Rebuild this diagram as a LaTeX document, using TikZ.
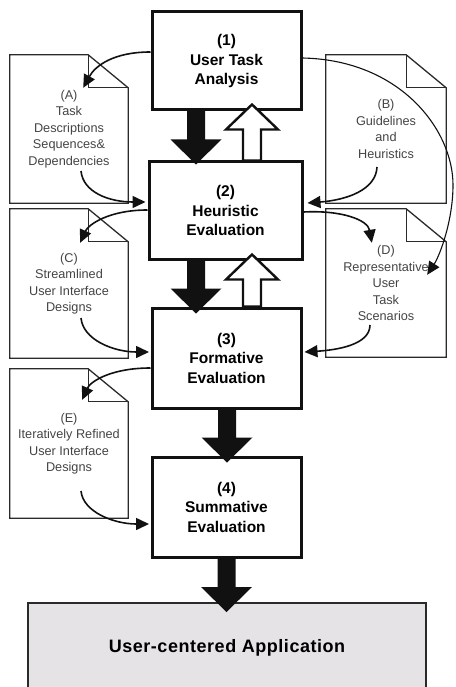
\documentclass[tikz,border=0pt]{standalone}
\usepackage{fontspec}
\setmainfont{Liberation Sans}
\usetikzlibrary{arrows.meta,calc}

\definecolor{ink}{HTML}{111111}
\definecolor{docline}{HTML}{2A2A2A}
\definecolor{doctext}{HTML}{444444}
\definecolor{appfill}{HTML}{E5E3E5}

% page folded at its top right corner, drawn round a document node
\newcommand\foldeddoc[1]{%
  \draw[docedge] (#1.north west) -- ($(#1.north east)+(-40,0)$) -- ($(#1.north east)+(0,33)$)
    -- (#1.south east) -- (#1.south west) -- cycle;
  \draw[docedge] ($(#1.north east)+(-40,0)$) -- ($(#1.north east)+(-40,33)$) -- ($(#1.north east)+(0,33)$);}

% solid block arrow from the bottom of one stage into the top of the next
\newcommand\solidpush[4]{%
  \fill[ink] let \p1=($(#1.south)+(#3,0)$), \p2=($(#2.north)+(#3,#4)$) in
    (\x1-9pt,\y1+1pt) -- (\x1-9pt,\y2+25pt) -- (\x1-25.5pt,\y2+25pt) -- (\x1,\y2)
    -- (\x1+25.5pt,\y2+25pt) -- (\x1+9pt,\y2+25pt) -- (\x1+9pt,\y1+1pt) -- cycle;}

% hollow block arrow from the top of one stage back up into the previous one
\newcommand\hollowpush[4]{%
  \filldraw[backflow] let \p1=($(#1.north)+(#3,0)$), \p2=($(#2.south)+(#3,#4)$) in
    (\x1-9pt,\y1) -- (\x1-9pt,\y2-25pt) -- (\x1-26pt,\y2-25pt) -- (\x1,\y2)
    -- (\x1+26pt,\y2-25pt) -- (\x1+9pt,\y2-25pt) -- (\x1+9pt,\y1) -- cycle;}

\begin{document}
\begin{tikzpicture}[x=1pt,y=-1pt,
  stage/.style={draw=ink, line width=3pt, fill=white, minimum width=149pt,
    minimum height=100pt, align=center, inner sep=0pt,
    font=\bfseries\fontsize{15.5}{19.5}\selectfont},
  docframe/.style={minimum width=118pt, minimum height=148pt, inner sep=0pt,
    align=center, text=doctext, font=\fontsize{12.7}{16.5}\selectfont},
  docedge/.style={draw=docline, line width=1.3pt, line join=miter},
  flow/.style={draw=ink, line width=1.6pt, -{Triangle[length=13pt,width=12pt]}},
  longflow/.style={draw=ink, line width=1.1pt, -{Triangle[length=13pt,width=12pt]}},
  backflow/.style={draw=ink, fill=white, line width=2.4pt, line join=miter},
  appbox/.style={draw=docline, line width=2pt, fill=appfill, minimum width=398pt,
    minimum height=90pt, inner sep=0pt,
    font=\bfseries\fontsize{18}{20}\selectfont\addfontfeature{LetterSpace=3}},
]
\useasboundingbox (0,0) rectangle (455,687);

% documents
\node[docframe] (A) at (69,129) {(A)\\Task\\Descriptions\\Sequences\&\\Dependencies};
\node[docframe, minimum width=120pt] (B) at (386,129) {(B)\\Guidelines\\and\\Heuristics};
\node[docframe, minimum height=149pt] (C) at (69,283.5) {(C)\\Streamlined\\User Interface\\Designs};
\node[docframe, minimum width=120pt] (D) at (386,283) {(D)\\Representative\\User\\Task\\Scenarios};
\node[docframe, minimum height=149pt] (E) at (69,443.5) {(E)\\Iteratively Refined\\User Interface\\Designs};
\foldeddoc{A}
\foldeddoc{B}
\foldeddoc{C}
\foldeddoc{D}
\foldeddoc{E}

% stages
\node[stage, minimum height=98pt] (B1) at (226.5,61) {(1)\\User Task\\Analysis};
\node[stage, minimum width=153pt, minimum height=97pt] (B2) at (225.5,210.5) {(2)\\Heuristic\\Evaluation};
\node[stage] (B3) at (226.5,358) {(3)\\Formative\\Evaluation};
\node[stage] (B4) at (226.5,507) {(4)\\Summative\\Evaluation};
\node[appbox] (App) at (227,648) {User-centered Application};

% forward and backward block arrows
\solidpush{B1}{B2}{-30.5}{4}
\solidpush{B2}{B3}{-29.5}{7}
\solidpush{B3}{B4}{0.5}{7}
\solidpush{B4}{App}{0}{10}
\hollowpush{B2}{B1}{26.5}{-7}
\hollowpush{B3}{B2}{25.5}{-6}

% documents produced and consumed by each stage
\draw[flow] ($(B1.west)+(0,-9)$) .. controls +(-37,0) and +(12,-22) .. ($(A.north east)+(-45,33)$);
\draw[flow] ($(A.center)+(12,42)$) .. controls +(2,21) and +(-37,0) .. ($(B2.west)+(-2,-8.5)$);
\coordinate (swing) at (453,185);
\draw[longflow] ($(B1.east)+(0,-3)$) .. controls +(98,2) and +(0,-55) .. (swing)
  .. controls +(0,35) and +(13,-20) .. ($(D.north east)+(-19,66)$);
\draw[flow] ($(B.center)+(-9,38)$) .. controls +(-1,23) and +(39,-3) .. ($(B2.east)+(4,-7.5)$);
\draw[flow] ($(B2.east)+(0,1.5)$) .. controls +(38,-2) and +(-4,-23) .. ($(D.north west)+(46,34)$);
\draw[flow] ($(D.center)+(-16,42)$) .. controls +(0,20) and +(32,-2) .. ($(B3.east)+(2,-6)$);
\draw[flow] ($(B2.west)+(0,-0.5)$) .. controls +(-39,0) and +(8,-18) .. ($(C.north east)+(-48,34)$);
\draw[flow] ($(C.center)+(12,34.5)$) .. controls +(2,22) and +(-35,0) .. ($(B3.west)+(-1.5,-6)$);
\draw[flow] ($(B3.west)+(0,10)$) .. controls +(-40,0) and +(8,-18) .. ($(E.north east)+(-46,31)$);
\draw[flow] ($(E.center)+(12,47.5)$) .. controls +(2,21) and +(-35,0) .. ($(B4.west)+(-1.5,17)$);
\end{tikzpicture}
\end{document}
